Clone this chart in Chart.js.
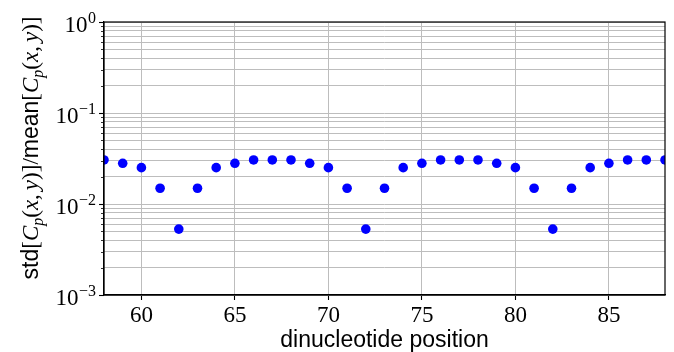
<!DOCTYPE html>
<html>
<head>
<meta charset="utf-8">
<script src="https://cdn.jsdelivr.net/npm/chart.js@4/dist/chart.umd.min.js"></script>
<style>
  html, body { margin: 0; padding: 0; background: #fff; }
  #wrap { width: 674px; height: 352px; }
</style>
</head>
<body>
<div id="wrap"><canvas id="ratioChart" width="674" height="352"></canvas></div>
<script>
// dinucleotide positions and the std/mean ratio at each
const positions = [58, 59, 60, 61, 62, 63, 64, 65, 66, 67, 68, 69, 70, 71, 72, 73,
                   74, 75, 76, 77, 78, 79, 80, 81, 82, 83, 84, 85, 86, 87, 88];
const ratios = [0.0305, 0.0280, 0.0251, 0.0149, 0.0053, 0.0149, 0.0251, 0.0280,
                0.0305, 0.0305, 0.0305, 0.0280, 0.0251, 0.0149, 0.0053, 0.0149,
                0.0251, 0.0280, 0.0305, 0.0305, 0.0305, 0.0280, 0.0251, 0.0149,
                0.0053, 0.0149, 0.0251, 0.0280, 0.0305, 0.0305, 0.0305];
const xTicks = [60, 65, 70, 75, 80, 85];
const yDecades = [-3, -2, -1, 0];

const SERIF = '"Liberation Serif", "DejaVu Serif", serif';
const SANS = '"Liberation Sans", "DejaVu Sans", sans-serif';
const GRID = '#bdbdbd';

// every 1..9 step of each decade gets a grid line; 1 is the major one
const yGrid = [];
yDecades.forEach(d => {
    const top = d === yDecades[yDecades.length - 1];
    for (let m = 1; m <= (top ? 1 : 9); m++) yGrid.push({ value: m * Math.pow(10, d), major: m === 1 });
});

// y axis: superscript tick labels, minor/major tick marks, frame, rotated title
const logAxisDecor = {
    id: 'logAxisDecor',
    afterDraw(chart) {
        const ctx = chart.ctx;
        const area = chart.chartArea;
        const y = chart.scales.y;
        ctx.save();

        ctx.strokeStyle = '#000';
        ctx.lineWidth = 1.2;
        ctx.strokeRect(area.left, area.top, area.right - area.left, area.bottom - area.top);

        yGrid.forEach(t => {
            const py = Math.round(y.getPixelForValue(t.value)) + 0.5;
            ctx.lineWidth = t.major ? 1.1 : 0.8;
            ctx.beginPath();
            ctx.moveTo(area.left, py);
            ctx.lineTo(area.left - (t.major ? 5 : 3), py);
            ctx.stroke();
        });

        ctx.fillStyle = '#000';
        ctx.textAlign = 'right';
        ctx.textBaseline = 'alphabetic';
        const labelRight = area.left - 8;
        yDecades.forEach(d => {
            const py = y.getPixelForValue(Math.pow(10, d));
            const exp = d === 0 ? '0' : '\u2212' + (-d);
            ctx.font = '16px ' + SERIF;
            const ew = ctx.measureText(exp).width;
            ctx.fillText(exp, labelRight, py + 1);
            ctx.font = '23px ' + SERIF;
            ctx.fillText('10', labelRight - ew - 0.5, py + 10);
        });

        // std[C_p(x, y)]/mean[C_p(x, y)]
        const bracket = [
            ['[', SERIF, 23, false, 0], ['C', SERIF, 23, true, 0], ['p', SERIF, 16, true, 5],
            ['(', SERIF, 23, false, 0], ['x', SERIF, 23, true, 0], [',', SERIF, 23, false, 0],
            [' ', SERIF, 16, false, 0], ['y', SERIF, 23, true, 0], [')]', SERIF, 23, false, 0]
        ];
        const runs = [['std', SANS, 23, false, 0]].concat(bracket,
            [['/', SERIF, 23, false, 0], ['mean', SANS, 23, false, 0]], bracket);
        const fontOf = r => (r[3] ? 'italic ' : '') + r[2] + 'px ' + r[1];
        let total = 0;
        runs.forEach(r => { ctx.font = fontOf(r); total += ctx.measureText(r[0]).width; });
        ctx.translate(38, 148);
        ctx.rotate(-Math.PI / 2);
        ctx.textAlign = 'left';
        let x = -total / 2;
        runs.forEach(r => {
            ctx.font = fontOf(r);
            ctx.fillText(r[0], x, r[4]);
            x += ctx.measureText(r[0]).width;
        });
        ctx.restore();
    }
};

new Chart(document.getElementById('ratioChart'), {
    type: 'scatter',
    data: {
        datasets: [{
            data: positions.map((p, i) => ({ x: p, y: ratios[i] })),
            backgroundColor: '#0000ff',
            borderWidth: 0,
            pointRadius: 4.8,
            pointHoverRadius: 4.8,
            clip: 0
        }]
    },
    options: {
        responsive: false,
        devicePixelRatio: 1,
        animation: false,
        events: [],
        layout: { padding: { top: 22, right: 9, left: 0, bottom: 0 } },
        plugins: { legend: { display: false }, tooltip: { enabled: false } },
        scales: {
            x: {
                type: 'linear',
                min: 58,
                max: 88,
                afterBuildTicks: s => { s.ticks = xTicks.map(v => ({ value: v })); },
                afterFit: s => { s.height = 57; },
                grid: { color: GRID, lineWidth: 1, drawTicks: true, tickLength: 5, tickColor: '#000', tickWidth: 1.1 },
                border: { display: true, color: '#000', width: 1.2 },
                ticks: { color: '#000', font: { family: SERIF, size: 23 }, padding: 2, maxRotation: 0 },
                title: {
                    display: true,
                    text: 'dinucleotide position',
                    color: '#000',
                    font: { family: SANS, size: 23, lineHeight: 1 },
                    padding: { top: 0, bottom: 0 }
                }
            },
            y: {
                type: 'logarithmic',
                min: 1e-3,
                max: 1,
                afterBuildTicks: s => { s.ticks = yGrid.map(t => ({ value: t.value, major: t.major })); },
                afterFit: s => { s.width = 104; },
                grid: { color: GRID, lineWidth: 1, drawTicks: false },
                border: { display: true, color: '#000', width: 1.2 },
                ticks: { display: false }
            }
        }
    },
    plugins: [logAxisDecor]
});
</script>
</body>
</html>
